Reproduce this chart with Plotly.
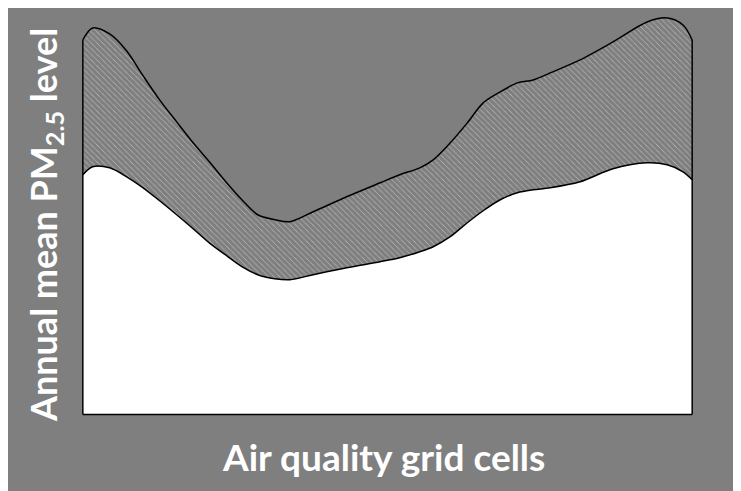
"""Schematic area chart: annual mean PM2.5 band across air quality grid cells."""

import plotly.graph_objects as go

# grid cell position (0-100) and band edges (arbitrary PM2.5 units)
grid_cells = [0, 1.6, 4.4, 7.2, 9.9, 12.6, 15.4, 18.1, 20.9, 23.6, 26.1, 28.7, 31.5,
              34.0, 37.8, 43.3, 48.8, 52.0, 55.3, 57.5, 60.3, 63.1, 65.7, 68.5, 71.3,
              73.9, 76.7, 81.6, 87.0, 92.6, 95.9, 98.5, 100]
lower_level = [24.0, 24.8, 24.7, 23.8, 22.7, 21.4, 20.0, 18.6, 17.1, 15.9, 14.8, 14.0,
               13.6, 13.5, 14.0, 14.7, 15.3, 15.7, 16.3, 16.8, 17.8, 19.2, 20.4, 21.5,
               22.2, 22.5, 22.7, 23.3, 24.6, 25.2, 25.0, 24.3, 23.5]
upper_level = [37.5, 38.7, 38.1, 36.4, 33.9, 31.5, 29.3, 27.2, 25.2, 23.2, 21.5, 20.0,
               19.5, 19.3, 20.3, 21.8, 23.2, 24.0, 24.7, 25.5, 27.2, 29.2, 31.2, 32.3,
               33.2, 33.5, 34.2, 35.5, 37.3, 39.3, 39.7, 39.0, 37.5]

BG = "#7f7f7f"
FONT = "Lato"

fig = go.Figure()

fig.add_trace(go.Scatter(
    x=grid_cells, y=lower_level,
    mode="lines", line=dict(color="black", width=1.5, shape="spline", smoothing=0.9),
    fill="tozeroy", fillcolor="white",
    hoverinfo="skip", showlegend=False,
))
fig.add_trace(go.Scatter(
    x=grid_cells, y=upper_level,
    mode="lines", line=dict(color="black", width=1.5, shape="spline", smoothing=0.9),
    fill="tonexty",
    fillpattern=dict(shape="\\", fgcolor="black", bgcolor="white", size=4, solidity=0.95),
    hoverinfo="skip", showlegend=False,
))

# vertical edges and base of the band
for i in (0, -1):
    fig.add_trace(go.Scatter(
        x=[grid_cells[i], grid_cells[i]], y=[0, upper_level[i]],
        mode="lines", line=dict(color="black", width=1.5),
        hoverinfo="skip", showlegend=False,
    ))
fig.add_trace(go.Scatter(
    x=[grid_cells[0], grid_cells[-1]], y=[0, 0],
    mode="lines", line=dict(color="black", width=1.5),
    hoverinfo="skip", showlegend=False,
))

fig.add_annotation(
    text="<b>Annual mean PM<sub>2.5</sub> level</b>",
    xref="paper", yref="paper", x=-0.058, y=0.475,
    xanchor="center", yanchor="middle", textangle=-90, showarrow=False,
    font=dict(family=FONT, size=36, color="white"),
)
fig.add_annotation(
    text="<b>Air quality grid cells</b>",
    xref="paper", yref="paper", x=0.493, y=-0.1,
    xanchor="center", yanchor="middle", showarrow=False,
    font=dict(family=FONT, size=37, color="white"),
)

fig.update_xaxes(range=[-0.3, 100.3], showticklabels=False, showgrid=False,
                 zeroline=False, showline=False)
fig.update_yaxes(range=[-0.15, 40.2], showticklabels=False, showgrid=False,
                 zeroline=False, showline=False)

fig.update_layout(
    width=741, height=491,
    margin=dict(l=73, r=55, t=5, b=83),
    paper_bgcolor=BG, plot_bgcolor=BG,
)

fig.write_html("out.html")
